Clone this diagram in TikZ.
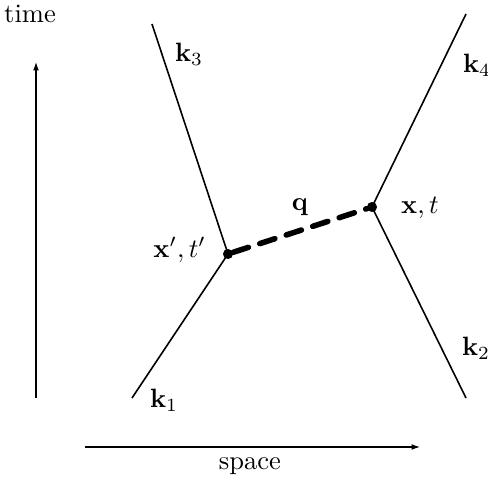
\documentclass[tikz,border=0pt]{standalone}
\usepackage{amsmath, amssymb}
\usepackage{tikz}
\usetikzlibrary{arrows.meta}

\begin{document}
\begin{tikzpicture}[>={Latex[length=3.2pt,width=2.2pt]}, x=0.377pt, y=-0.377pt,
  vtx/.style={circle, fill=black, inner sep=0pt, minimum size=3.8pt},
  prop/.style={line width=0.6pt},
  lbl/.style={inner sep=1pt}]
\useasboundingbox (0,0) rectangle (488,483);

%% axes
\coordinate (tlo) at (36,398);
\coordinate (thi) at (36,62);
\coordinate (slo) at (85,447);
\coordinate (shi) at (420,447);
\draw[->, thin] (tlo) -- (thi);
\draw[->, thin] (slo) -- (shi);
\node[lbl] (time) at (30,14) {time};
\node[lbl] (space) at (250,466) {space};

%% vertices
\node[vtx] (v1) at (228,254) {};
\node[vtx] (v2) at (372,207) {};
\node[lbl, anchor=east] (v1lbl) at (209,250) {$\mathbf{x}',t'$};
\node[lbl, anchor=west] (v2lbl) at (398,208) {$\mathbf{x},t$};

%% external lines
\coordinate (p1) at (132,398);
\coordinate (p3) at (152,24);
\coordinate (p4) at (466,14);
\coordinate (p2) at (466,398);
\draw[prop] (p1) -- (v1.center) -- (p3);
\draw[prop] (p2) -- (v2.center) -- (p4);
\node[lbl] (k1) at (164,400) {$\mathbf{k}_1$};
\node[lbl] (k3) at (189,54) {$\mathbf{k}_3$};
\node[lbl] (k4) at (477,65) {$\mathbf{k}_4$};
\node[lbl] (k2) at (476,348) {$\mathbf{k}_2$};

%% exchanged quantum
\draw[line width=2.1pt, dash pattern=on 6pt off 4.5pt, line cap=round] (v1) -- (v2);
\node[lbl] (q) at (300,207) {$\mathbf{q}$};
\end{tikzpicture}
\end{document}
